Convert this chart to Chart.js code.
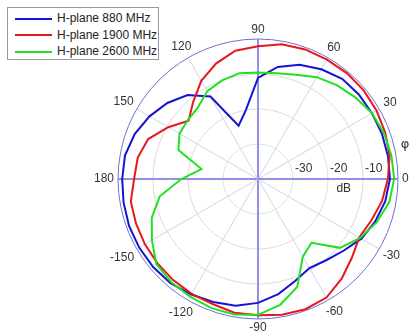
<!DOCTYPE html>
<html>
<head>
<meta charset="utf-8">
<script src="https://cdn.jsdelivr.net/npm/chart.js@4"></script>
<style>
  body { margin: 0; background: #fff; }
  #wrap { position: relative; width: 412px; height: 331px; }
  #legend {
    position: absolute; left: 7px; top: 7px; width: 152px; height: 53px;
    box-sizing: border-box; border: 1px solid #999; background: #fff;
    font: 12px "Liberation Sans", Arial, sans-serif; color: #222; padding-top: 2px;
  }
  #legend div { height: 16.5px; line-height: 16.5px; white-space: nowrap; }
  #legend span.sw { display: inline-block; width: 37px; height: 2px; margin: 0 5px 0 7px; vertical-align: middle; }
</style>
</head>
<body>
<div id="wrap">
  <canvas id="polarChart" width="412" height="331"></canvas>
  <div id="legend"></div>
</div>
<script>
// angle phi in degrees (counter-clockwise, 0 = right)
const phi = [0, 10, 20, 30, 40, 50, 60, 70, 80, 90, 100, 110, 120, 130, 140, 150, 160, 170, 180,
             -170, -160, -150, -140, -130, -120, -110, -100, -90, -80, -70, -60, -50, -40, -30, -20, -10];

// gain in dB, same order as phi
const h880 = [-2.3, -2.3, -2.3, -2.4, -2.4, -2.6, -3.8, -5.3, -7.5, -11.1, -20.0, -23.8, -12.8, -8.7, -6.2, -4.2, -2.5, -1.4, -1.2,
              -1.0, -0.8, -0.8, -0.9, -1.1, -1.9, -2.6, -3.2, -4.6, -6.6, -9.0, -10.6, -9.7, -8.1, -5.9, -4.4, -3.1];
const h1900 = [-2.9, -1.8, -1.3, -0.9, -0.6, -0.5, -0.6, -0.6, -0.9, -2.1, -2.8, -4.9, -7.6, -11.2, -14.1, -10.4, -6.6, -5.1, -4.6,
               -3.1, -2.9, -2.7, -2.5, -2.3, -2.1, -2.0, -1.2, -1.1, -0.6, -0.4, -0.9, -2.8, -5.0, -6.6, -5.5, -4.0];
const h2600 = [-1.1, -1.3, -1.7, -2.4, -3.7, -5.0, -6.4, -8.3, -9.3, -9.6, -9.3, -10.0, -11.0, -13.3, -13.8, -14.1, -15.8, -23.6, -18.1,
               -11.5, -7.7, -5.0, -2.1, -1.5, -1.2, -0.8, -0.7, -1.2, -3.5, -7.2, -14.4, -16.2, -9.4, -6.3, -3.9, -1.9];

const seriesNames = ['H-plane 880 MHz', 'H-plane 1900 MHz', 'H-plane 2600 MHz'];
const seriesColors = ['#1414d2', '#e8161e', '#22e022'];
const rMin = -40, rMax = 0, rStep = 10;
const ringColors = { '-30': '#cfe6f0', '-20': '#f0d2da', '-10': '#e2d4de', '0': '#6f6fd6' };

// radar goes clockwise, so walk phi backwards starting at 0
const order = phi.map((p, k) => (phi.length - k) % phi.length);
const labels = order.map(i => phi[i]);
const pick = arr => order.map(i => arr[i]);

const font = '12px "Liberation Sans", Arial, sans-serif';

const labelPlugin = {
  id: 'polarText',
  afterDraw(chart) {
    const s = chart.scales.r;
    const ctx = chart.ctx;
    ctx.save();
    ctx.font = font;
    ctx.fillStyle = '#333';
    ctx.textBaseline = 'middle';
    ctx.textAlign = 'center';
    // angle labels every 30 degrees
    labels.forEach((a, i) => {
      if (a % 30 !== 0) return;
      const txt = String(a);
      const w = ctx.measureText(txt).width;
      const t = a * Math.PI / 180;
      const d = s.drawingArea + 4 + Math.abs(Math.cos(t)) * w / 2 + Math.abs(Math.sin(t)) * 5;
      const p = s.getPointPosition(i, d);
      ctx.fillText(txt, p.x, p.y);
    });
    // dB tick labels along the 0 degree axis
    ctx.textAlign = 'left';
    s.ticks.forEach(t => {
      if (t.value === rMin || t.value === rMax) return;
      const x = s.xCenter + s.getDistanceFromCenterForValue(t.value) + 2;
      ctx.fillText(String(t.value), x, s.yCenter - 10);
    });
    ctx.textAlign = 'center';
    ctx.fillText('dB', s.xCenter + s.getDistanceFromCenterForValue(-15.5), s.yCenter + 10);
    ctx.font = '13px "DejaVu Sans", sans-serif';
    ctx.fillText('\u03c6', s.xCenter + 147, s.yCenter - 34);
    ctx.restore();
  }
};

const polarCtx = document.getElementById('polarChart').getContext('2d');
const polarChart = new Chart(polarCtx, {
    type: 'radar',
    data: {
        labels: labels,
        datasets: [h880, h1900, h2600].map((arr, k) => ({
            label: seriesNames[k],
            data: pick(arr),
            borderColor: seriesColors[k],
            backgroundColor: seriesColors[k],
            borderWidth: 2,
            pointRadius: 0,
            fill: false,
            tension: 0,
            order: 3 - k
        }))
    },
    options: {
        responsive: false,
        animation: false,
        layout: { padding: { left: 118, right: 14, top: 39, bottom: 12 } },
        plugins: { legend: { display: false }, tooltip: { enabled: false } },
        scales: {
            r: {
                min: rMin,
                max: rMax,
                startAngle: 90,
                ticks: { display: false, stepSize: rStep },
                pointLabels: { display: false },
                grid: {
                    circular: true,
                    color: c => ringColors[String(c.tick.value)] || 'rgba(0,0,0,0)',
                    lineWidth: 1
                },
                angleLines: {
                    color: c => {
                        const a = labels[c.index];
                        if (a % 90 === 0) return '#9090e6';
                        return a % 30 === 0 ? '#d4d2e4' : 'rgba(0,0,0,0)';
                    },
                    lineWidth: c => (labels[c.index] % 90 === 0 ? 2 : 1)
                }
            }
        }
    },
    plugins: [labelPlugin]
});

// legend box
const legendEl = document.getElementById('legend');
seriesNames.forEach((name, k) => {
    const row = document.createElement('div');
    row.innerHTML = '<span class="sw" style="background:' + seriesColors[k] + '"></span>' + name;
    legendEl.appendChild(row);
});
</script>
</body>
</html>
